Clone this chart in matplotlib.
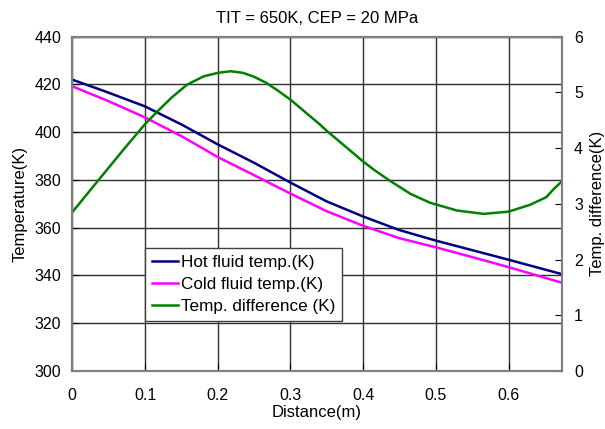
import matplotlib.pyplot as plt

# distance along exchanger (m) and temperatures (K)
x_temp = [0, 0.046, 0.1, 0.151, 0.2, 0.25, 0.3, 0.35, 0.4, 0.45, 0.5, 0.55, 0.6, 0.673]
hot = [422.0, 417.0, 410.8, 403.1, 394.9, 387.2, 378.9, 371.0, 364.7, 359.0, 354.6, 350.6, 346.6, 340.6]
cold = [419.2, 413.5, 406.2, 398.2, 389.6, 382.0, 374.3, 366.9, 360.8, 355.6, 351.8, 347.7, 343.5, 337.0]

x_diff = [0, 0.035, 0.0734, 0.1, 0.118, 0.136, 0.158, 0.181, 0.2, 0.218, 0.235, 0.25,
          0.267, 0.283, 0.3, 0.34, 0.35, 0.4, 0.415, 0.435, 0.465, 0.492, 0.529,
          0.566, 0.6, 0.629, 0.652, 0.661, 0.673]
diff = [2.85, 3.41, 4.02, 4.43, 4.67, 4.90, 5.14, 5.29, 5.35, 5.38, 5.35, 5.28,
        5.17, 5.03, 4.87, 4.43, 4.31, 3.76, 3.61, 3.43, 3.18, 3.02, 2.88,
        2.82, 2.86, 2.98, 3.12, 3.25, 3.40]

plt.rcParams['font.family'] = ['Liberation Sans', 'DejaVu Sans']
plt.rcParams['font.size'] = 11

fig = plt.figure(figsize=(6.05, 4.29), dpi=100)
ax = fig.add_axes([0.1195, 0.1352, 0.8088, 0.7793])
ax2 = ax.twinx()

l1, = ax.plot(x_temp, hot, color='#000080', lw=1.8, label='Hot fluid temp.(K)')
l2, = ax.plot(x_temp, cold, color='#ff00ff', lw=1.8, label='Cold fluid temp.(K)')
l3, = ax2.plot(x_diff, diff, color='#008000', lw=1.8, label='Temp. difference (K)')

ax.set_xlim(0, 0.673)
ax.set_ylim(300, 440)
ax2.set_ylim(0, 6)
ax.set_xticks([0, 0.1, 0.2, 0.3, 0.4, 0.5, 0.6])
ax.set_xticklabels(['0', '0.1', '0.2', '0.3', '0.4', '0.5', '0.6'])
ax.set_yticks(range(300, 441, 20))
ax2.set_yticks(range(0, 7))

ax.grid(True, color='#303030', lw=1.0)
ax.tick_params(direction='in', length=5, labelsize=11.5, pad=8)
ax.tick_params(axis='x', pad=12)
ax2.tick_params(direction='in', length=5, labelsize=11.5, pad=9)
for a in (ax, ax2):
    for s in a.spines.values():
        s.set_color('#808080')
        s.set_linewidth(1.5)

ax.set_xlabel('Distance(m)', fontsize=12, labelpad=2)
ax.set_ylabel('Temperature(K)', fontsize=12, labelpad=5)
ax2.set_ylabel('Temp. difference(K)', fontsize=12, labelpad=5)
ax.set_title('TIT = 650K, CEP = 20 MPa', fontsize=12, pad=10)

leg = ax2.legend(handles=[l1, l2, l3], loc='upper left', bbox_to_anchor=(0.149, 0.368),
                 borderaxespad=0, fancybox=False, framealpha=1, edgecolor='#404040',
                 handlelength=1.5, handletextpad=0.2, labelspacing=0.42, fontsize=12.3,
                 borderpad=0.4)
leg.get_frame().set_linewidth(1.0)

fig.savefig('out.png', dpi=100)
